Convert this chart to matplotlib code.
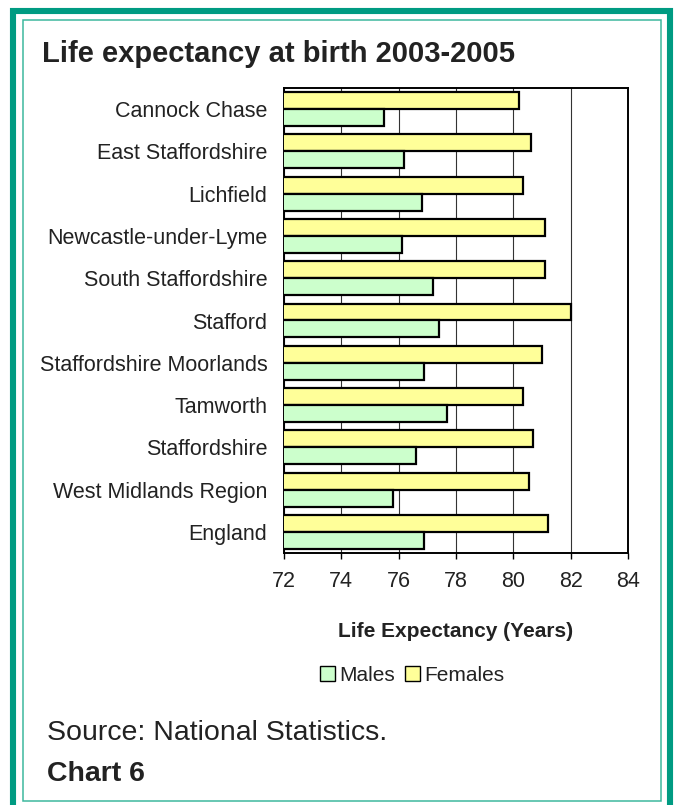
import matplotlib
matplotlib.use("Agg")
import matplotlib.pyplot as plt
from matplotlib.patches import Rectangle, Patch
import numpy as np

categories = ["Cannock Chase", "East Staffordshire", "Lichfield", "Newcastle-under-Lyme",
              "South Staffordshire", "Stafford", "Staffordshire Moorlands", "Tamworth",
              "Staffordshire", "West Midlands Region", "England"]
females = [80.2, 80.6, 80.35, 81.1, 81.1, 82.0, 81.0, 80.35, 80.7, 80.55, 81.2]
males = [75.5, 76.2, 76.8, 76.1, 77.2, 77.4, 76.9, 77.7, 76.6, 75.8, 76.9]
xticks = [72, 74, 76, 78, 80, 82, 84]

W, H = 676, 805
plt.rcParams['font.family'] = ['Liberation Sans', 'DejaVu Sans']
TXT = '#222222'
F_COL = '#FFFF99'
M_COL = '#CCFFCC'

fig = plt.figure(figsize=(W / 100, H / 100), dpi=100)
fig.patch.set_facecolor('white')

def fx(px):
    return px / W

def fy(py):
    return 1 - py / H

# borders
outer = Rectangle((fx(13), fy(830)), fx(670) - fx(13), fy(11) - fy(830),
                  transform=fig.transFigure, fill=False, edgecolor='#009B82',
                  linewidth=4.4, zorder=0)
inner = Rectangle((fx(22.5), fy(800.5)), fx(661) - fx(22.5), fy(20.5) - fy(800.5),
                  transform=fig.transFigure, fill=False, edgecolor='#3DB89E',
                  linewidth=1.1, zorder=0)
fig.patches.extend([outer, inner])

ax = fig.add_axes([fx(284), fy(553), fx(628) - fx(284), fy(88) - fy(553)])
y = np.arange(len(categories))
h = 0.4
ax.barh(y - h / 2, females, height=h, color=F_COL, edgecolor='black',
        linewidth=1.6, zorder=3)
ax.barh(y + h / 2, males, height=h, color=M_COL, edgecolor='black',
        linewidth=1.6, zorder=3)
ax.set_xlim(72, 84)
ax.set_ylim(len(categories) - 0.5, -0.5)
ax.set_xticks(xticks)
ax.set_xticklabels([str(t) for t in xticks])
ax.set_yticks(y)
ax.set_yticklabels(categories)
ax.tick_params(axis='x', direction='out', length=4, width=1, labelsize=15.5,
               labelcolor=TXT, pad=9)
ax.tick_params(axis='y', length=0, labelsize=15.5, labelcolor=TXT, pad=12)
ax.grid(axis='x', color='#333333', linewidth=0.8, zorder=1)
ax.set_axisbelow(True)
for s in ax.spines.values():
    s.set_linewidth(1.4)
    s.set_color('black')

fig.text(fx(42), fy(62), "Life expectancy at birth 2003-2005", fontsize=21,
         fontweight='bold', color=TXT, ha='left', va='baseline')
fig.text(fx(456), fy(637), "Life Expectancy (Years)", fontsize=15, fontweight='bold',
         color=TXT, ha='center', va='baseline')
fig.text(fx(47), fy(740), "Source: National Statistics.", fontsize=20.5,
         color=TXT, ha='left', va='baseline')
fig.text(fx(47), fy(781), "Chart 6", fontsize=20.5, fontweight='bold',
         color=TXT, ha='left', va='baseline')

handles = [Patch(facecolor=M_COL, edgecolor='black', linewidth=1, label='Males'),
           Patch(facecolor=F_COL, edgecolor='black', linewidth=1, label='Females')]
fig.legend(handles=handles, loc='center', bbox_to_anchor=(fx(412), fy(675)), ncol=2,
           frameon=False, fontsize=15, handlelength=0.7, handleheight=0.7,
           handletextpad=0.2, columnspacing=0.5, labelcolor=TXT)

fig.savefig('out.png', dpi=100)
